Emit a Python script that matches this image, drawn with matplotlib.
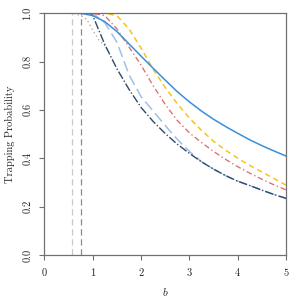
import matplotlib
matplotlib.use("Agg")
import matplotlib.pyplot as plt

plt.rcParams['font.family'] = 'serif'
plt.rcParams['font.serif'] = ['cmr10', 'DejaVu Serif']
plt.rcParams['mathtext.fontset'] = 'cm'
plt.rcParams['axes.formatter.use_mathtext'] = True

# b values and trapping probabilities
b = [0, 0.25, 0.5, 0.75, 1.0, 1.25, 1.5, 1.75, 2.0, 2.25, 2.5,
     2.75, 3.0, 3.25, 3.5, 3.75, 4.0, 4.25, 4.5, 4.75, 5.0]

blue = [1, 1, 1, 1, 0.99, 0.965, 0.924, 0.873, 0.822, 0.772, 0.723,
        0.675, 0.633, 0.595, 0.561, 0.531, 0.503, 0.476, 0.452, 0.43, 0.409]
yellow = [1, 1, 1, 1, 1, 1, 0.99, 0.935, 0.855, 0.768, 0.692,
          0.625, 0.566, 0.515, 0.47, 0.433, 0.40, 0.37, 0.343, 0.316, 0.289]
red = [1, 1, 1, 1, 1, 0.99, 0.935, 0.86, 0.785, 0.70, 0.622,
       0.556, 0.505, 0.465, 0.428, 0.395, 0.365, 0.338, 0.313, 0.29, 0.269]
lightblue = [1, 1, 1, 1, 1, 0.96, 0.88, 0.745, 0.655, 0.595, 0.535,
             0.478, 0.428, 0.386, 0.355, 0.328, 0.305, 0.287, 0.268, 0.25, 0.234]

b_navy = [0, 0.5, 0.95, 1.0, 1.25, 1.5, 1.75, 2.0, 2.25, 2.5, 2.75,
          3.0, 3.25, 3.5, 3.75, 4.0, 4.25, 4.5, 4.75, 5.0]
navy = [1, 1, 1, 0.99, 0.87, 0.77, 0.685, 0.61, 0.552, 0.502, 0.458,
        0.42, 0.385, 0.355, 0.328, 0.305, 0.287, 0.268, 0.25, 0.234]

b_gray = [0, 0.5, 0.625, 0.75, 0.875, 1.0, 1.125, 1.25, 1.3]
gray = [1, 1, 0.998, 0.99, 0.975, 0.93, 0.89, 0.865, 0.85]

vlines = [0.565, 0.76]

fig, ax = plt.subplots(figsize=(3, 3), dpi=100)
fig.subplots_adjust(left=0.148, right=0.954, bottom=0.15, top=0.956)

ax.axvline(vlines[0], 0, 1, color='#c8c8c8', lw=0.9, ls=(0, (5, 3)))
ax.axvline(vlines[1], 0, 1, color='#8c8c8c', lw=0.9, ls=(0, (5, 3)))

ax.plot(b_gray, gray, color='#b0b0b0', lw=1.0, ls=(0, (1, 2)))
ax.plot(b, lightblue, color='#9dc1ea', lw=1.1, ls=(0, (7, 3)))
ax.plot(b_navy, navy, color='#2c4a6b', lw=1.0, ls=(0, (6, 1.5, 1, 1.5)))
ax.plot(b, red, color='#e07272', lw=1.0, ls=(0, (4, 2, 1, 2)))
ax.plot(b, yellow, color='#f5c518', lw=1.1, ls=(0, (3.5, 2.5)))
ax.plot(b, blue, color='#3b8fd8', lw=1.1)

ax.set_xlim(0, 5)
ax.set_ylim(0, 1)
ax.set_xticks([0, 1, 2, 3, 4, 5])
ax.set_yticks([0.0, 0.2, 0.4, 0.6, 0.8, 1.0])
ax.set_yticklabels(['0.0', '0.2', '0.4', '0.6', '0.8', '1.0'], rotation=90, va='center')

for s in ax.spines.values():
    s.set_color('#707070')
    s.set_linewidth(0.9)
ax.tick_params(direction='out', length=3.6, width=0.8, color='#707070',
               labelsize=7.5, labelcolor='#222222')
ax.tick_params(axis='x', pad=4)
ax.tick_params(axis='y', pad=5)

ax.set_xlabel('$b$', fontsize=8, color='#222222', labelpad=6)
ax.set_ylabel('Trapping Probability', fontsize=7.5, color='#222222', labelpad=6)

fig.savefig('out.png', dpi=100)
